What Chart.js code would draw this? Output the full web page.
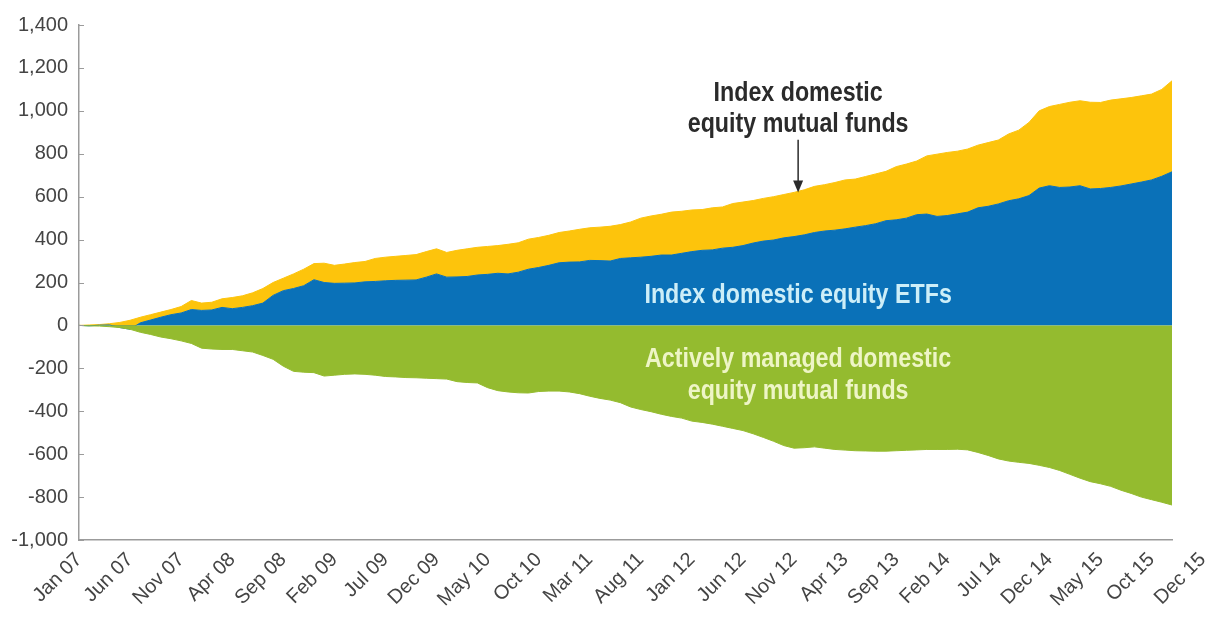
<!DOCTYPE html>
<html>
<head>
<meta charset="utf-8">
<script src="https://cdn.jsdelivr.net/npm/chart.js@4.4.1/dist/chart.umd.min.js"></script>
<style>
  html, body { margin: 0; padding: 0; background: #fff; }
</style>
</head>
<body>
<canvas id="grafico" width="1214" height="623"></canvas>
<script>
// Meses Jan 07 .. Dec 15
const monthNames = ['Jan', 'Feb', 'Mar', 'Apr', 'May', 'Jun', 'Jul', 'Aug', 'Sep', 'Oct', 'Nov', 'Dec'];
const years = ['07', '08', '09', '10', '11', '12', '13', '14', '15'];
const months = [];
years.forEach(y => monthNames.forEach(m => months.push(m + ' ' + y)));

// Etiquetas del eje x (cada 5 meses, la ultima es Dec 15)
const tickLabels = ['Jan 07', 'Jun 07', 'Nov 07', 'Apr 08', 'Sep 08', 'Feb 09', 'Jul 09', 'Dec 09',
    'May 10', 'Oct 10', 'Mar 11', 'Aug 11', 'Jan 12', 'Jun 12', 'Nov 12', 'Apr 13', 'Sep 13',
    'Feb 14', 'Jul 14', 'Dec 14', 'May 15', 'Oct 15', 'Dec 15'];
const yTicks = [-1000, -800, -600, -400, -200, 0, 200, 400, 600, 800, 1000, 1200, 1400];

// Flujos acumulados (miles de millones de USD)
const etfs = [0, 0, 1, 2, 0, 0, 12, 25, 38, 50,
    58, 74, 70, 72, 84, 78, 84, 92, 104, 140,
    162, 172, 185, 213, 200, 196, 197, 198, 203, 205,
    208, 210, 211, 212, 225, 240, 225, 226, 228, 235,
    238, 243, 240, 248, 262, 270, 280, 292, 295, 296,
    303, 302, 300, 312, 315, 318, 322, 328, 328, 336,
    344, 350, 352, 360, 364, 372, 384, 393, 398, 408,
    414, 422, 433, 440, 444, 450, 458, 465, 474, 488,
    492, 500, 516, 519, 508, 512, 520, 528, 548, 555,
    566, 581, 590, 605, 640, 651, 643, 645, 651, 636,
    638, 643, 650, 659, 668, 678, 695, 716];

const indexFunds = [0, 2, 3, 6, 14, 24, 26, 25, 24, 24,
    30, 42, 34, 36, 40, 52, 54, 60, 68, 60,
    58, 68, 77, 75, 90, 84, 89, 95, 95, 107,
    110, 112, 115, 118, 119, 117, 115, 124, 129, 129,
    130, 129, 138, 137, 140, 140, 140, 141, 145, 152,
    152, 156, 162, 158, 167, 182, 188, 190, 200, 196,
    194, 190, 196, 192, 204, 203, 198, 199, 202, 202,
    206, 210, 215, 216, 222, 228, 224, 229, 232, 230,
    248, 252, 250, 271, 290, 294, 292, 294, 292, 297,
    298, 311, 320, 341, 360, 369, 387, 395, 396, 404,
    401, 407, 406, 403, 402, 400, 405, 424];

const activeFunds = [0, -2, -3, -6, -10, -18, -32, -42, -54, -62,
    -72, -84, -106, -110, -112, -112, -118, -124, -140, -158,
    -190, -214, -218, -220, -236, -232, -228, -226, -228, -232,
    -238, -240, -243, -244, -246, -248, -250, -262, -266, -268,
    -290, -304, -310, -314, -315, -308, -306, -306, -310, -318,
    -330, -340, -348, -360, -380, -392, -402, -414, -424, -432,
    -446, -452, -460, -470, -480, -490, -505, -522, -540, -560,
    -572, -570, -566, -572, -578, -581, -584, -585, -586, -586,
    -584, -582, -580, -578, -578, -578, -577, -580, -592, -606,
    -622, -632, -638, -643, -652, -662, -676, -694, -712, -728,
    -738, -750, -768, -783, -800, -812, -824, -837];

const colores = { green: '#94bb2f', blue: '#0a71b8', yellow: '#fdc40c', axis: '#9b9b9b', text: '#444444' };
const fuente = "'Liberation Sans', Arial, sans-serif";

const toPoints = arr => arr.map((v, i) => ({ x: i, y: v }));

// texto condensado: se estrecha horizontalmente para parecerse a la fuente original
function textoEstrecho(ctx, texto, x, y) {
    const k = 0.83;
    ctx.save();
    ctx.translate(x, y);
    ctx.scale(k, 1);
    ctx.fillText(texto, 0, 0);
    ctx.restore();
}

// Marcas cortas del eje y hacia dentro + textos de las series
const anotaciones = {
    id: 'anotaciones',
    afterDraw(chart) {
        const ctx = chart.ctx;
        const xs = chart.scales.x;
        const ys = chart.scales.y;
        ctx.save();
        ctx.strokeStyle = colores.axis;
        ctx.lineWidth = 1;
        yTicks.forEach(v => {
            const py = Math.round(ys.getPixelForValue(v)) + 0.5;
            ctx.beginPath();
            ctx.moveTo(xs.left, py);
            ctx.lineTo(xs.left + 5, py);
            ctx.stroke();
        });

        const cx = xs.getPixelForValue(70.4);
        ctx.textAlign = 'center';
        ctx.textBaseline = 'alphabetic';
        ctx.font = 'bold 28px ' + fuente;

        ctx.fillStyle = '#cdeef8';
        textoEstrecho(ctx, 'Index domestic equity ETFs', cx, ys.getPixelForValue(106));

        ctx.fillStyle = '#eef5c6';
        textoEstrecho(ctx, 'Actively managed domestic', cx, ys.getPixelForValue(-195));
        textoEstrecho(ctx, 'equity mutual funds', cx, ys.getPixelForValue(-343));

        ctx.fillStyle = '#2b2b2b';
        textoEstrecho(ctx, 'Index domestic', cx, ys.getPixelForValue(1045));
        textoEstrecho(ctx, 'equity mutual funds', cx, ys.getPixelForValue(900));

        // flecha
        const y0 = ys.getPixelForValue(865);
        const y1 = ys.getPixelForValue(620);
        ctx.strokeStyle = '#2b2b2b';
        ctx.lineWidth = 1.5;
        ctx.beginPath();
        ctx.moveTo(cx, y0);
        ctx.lineTo(cx, y1 - 8);
        ctx.stroke();
        ctx.beginPath();
        ctx.moveTo(cx - 5, y1 - 12);
        ctx.lineTo(cx + 5, y1 - 12);
        ctx.lineTo(cx, y1);
        ctx.closePath();
        ctx.fillStyle = '#2b2b2b';
        ctx.fill();
        ctx.restore();
    }
};

const ctx = document.getElementById('grafico').getContext('2d');
new Chart(ctx, {
    type: 'line',
    data: {
        datasets: [
            {
                label: 'Actively managed domestic equity mutual funds',
                data: toPoints(activeFunds),
                backgroundColor: colores.green,
                borderColor: colores.green,
                borderWidth: 1,
                fill: 'origin',
                pointRadius: 0
            },
            {
                label: 'Index domestic equity ETFs',
                data: toPoints(etfs),
                backgroundColor: colores.blue,
                borderColor: colores.blue,
                borderWidth: 1,
                fill: 'origin',
                pointRadius: 0
            },
            {
                label: 'Index domestic equity mutual funds',
                data: toPoints(indexFunds),
                backgroundColor: colores.yellow,
                borderColor: colores.yellow,
                borderWidth: 1,
                fill: '-1',
                pointRadius: 0
            }
        ]
    },
    options: {
        responsive: false,
        animation: false,
        devicePixelRatio: 1,
        layout: { padding: { top: 25, right: 42, left: 0, bottom: 0 } },
        plugins: {
            legend: { display: false },
            tooltip: { enabled: false }
        },
        scales: {
            x: {
                type: 'linear',
                min: 0,
                max: months.length - 1,
                grid: { display: false, drawTicks: false },
                border: { display: true, color: colores.axis, width: 1.5 },
                afterBuildTicks: scale => {
                    scale.ticks = tickLabels.map((t, j) => ({ value: j * 5 }));
                },
                afterFit: scale => {
                    scale.height = 83;
                    scale.paddingLeft = 0;
                    scale.paddingRight = 0;
                },
                ticks: {
                    autoSkip: false,
                    minRotation: 45,
                    maxRotation: 45,
                    padding: 8,
                    color: colores.text,
                    font: { family: fuente, size: 20 },
                    callback: (value, index) => tickLabels[index]
                }
            },
            y: {
                stacked: true,
                min: -1000,
                max: 1400,
                grid: { display: false, drawTicks: false },
                border: { display: true, color: colores.axis, width: 1.5 },
                afterBuildTicks: scale => {
                    scale.ticks = yTicks.map(v => ({ value: v }));
                },
                afterFit: scale => { scale.width = 79; },
                ticks: {
                    padding: 11,
                    color: colores.text,
                    font: { family: fuente, size: 20 },
                    callback: value => value.toLocaleString('en-US')
                }
            }
        }
    },
    plugins: [anotaciones]
});
</script>
</body>
</html>
